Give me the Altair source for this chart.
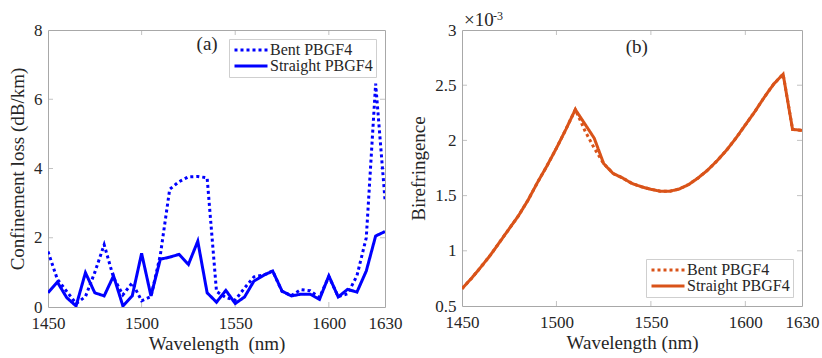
import altair as alt
import pandas as pd

# ---------------- data ----------------
wl_a = [1450, 1455, 1460, 1465, 1470, 1475, 1480, 1485, 1490, 1495, 1500, 1505,
        1510, 1515, 1520, 1525, 1530, 1535, 1540, 1545, 1550, 1555, 1560, 1565,
        1570, 1575, 1580, 1585, 1590, 1595, 1600, 1605, 1610, 1615, 1620, 1625, 1630]
loss_bent = [1.6, 0.8, 0.45, 0.1, 0.3, 1.0, 1.8, 0.85, 0.35, 0.7, 0.18, 0.3,
             1.5, 3.4, 3.62, 3.76, 3.77, 3.73, 0.45, 0.27, 0.2, 0.55, 0.87, 0.92,
             1.04, 0.45, 0.33, 0.5, 0.47, 0.27, 0.88, 0.3, 0.38, 0.9, 2.0, 6.45, 3.1]
loss_straight = [0.41, 0.72, 0.27, 0.03, 0.99, 0.41, 0.32, 0.9, 0.03, 0.32, 1.55, 0.32,
                 1.38, 1.44, 1.52, 1.23, 1.9, 0.41, 0.14, 0.48, 0.1, 0.29, 0.75, 0.91,
                 1.04, 0.46, 0.32, 0.37, 0.37, 0.22, 0.9, 0.29, 0.51, 0.43, 1.04, 2.05, 2.18]

wl_b = [1450, 1455, 1460, 1465, 1470, 1475, 1480, 1485, 1490, 1495, 1500, 1505,
        1510, 1515, 1520, 1525, 1530, 1535, 1540, 1545, 1550, 1555, 1560, 1565,
        1570, 1575, 1580, 1585, 1590, 1595, 1600, 1605, 1610, 1615, 1620, 1625, 1630]
bir_straight = [0.657, 0.75, 0.853, 0.96, 1.08, 1.20, 1.32, 1.46, 1.62, 1.77, 1.93, 2.10,
                2.28, 2.15, 2.02, 1.79, 1.70, 1.66, 1.61, 1.58, 1.557, 1.54, 1.539, 1.56,
                1.60, 1.66, 1.73, 1.815, 1.91, 2.02, 2.14, 2.26, 2.39, 2.51, 2.60, 2.10, 2.09]
bir_bent = [0.657, 0.75, 0.853, 0.96, 1.08, 1.20, 1.32, 1.46, 1.62, 1.77, 1.93, 2.10,
            2.28, 2.09, 1.93, 1.79, 1.70, 1.66, 1.61, 1.58, 1.557, 1.54, 1.539, 1.56,
            1.60, 1.66, 1.73, 1.815, 1.91, 2.02, 2.14, 2.26, 2.39, 2.51, 2.60, 2.10, 2.09]

series_names = ["Bent PBGF4", "Straight PBGF4"]
x_ticks = [1450, 1500, 1550, 1600, 1630]
ya_ticks = [0, 2, 4, 6, 8]
yb_ticks = [0.5, 1, 1.5, 2, 2.5, 3]
panel_a_label = ["(a)"]
panel_a_pos = [1535, 7.6]
panel_b_label = ["(b)"]
panel_b_pos = [1542.5, 2.85]

# ---------------- style ----------------
FONT = "Liberation Serif"
TXT = "#262626"
FRAME = "#a8a8a8"
BLUE = "#0000ff"
ORANGE = "#d95319"
WA, HA = 337, 277
WB, HB = 340, 276

df_a = pd.DataFrame({
    "wl": wl_a * 2,
    "v": loss_bent + loss_straight,
    "s": [series_names[0]] * len(wl_a) + [series_names[1]] * len(wl_a),
})
df_b = pd.DataFrame({
    "wl": wl_b * 2,
    "v": bir_bent + bir_straight,
    "s": [series_names[0]] * len(wl_b) + [series_names[1]] * len(wl_b),
})


def axis_x(title):
    return alt.Axis(values=x_ticks, title=title, domain=False, ticks=False, grid=False, format="d",
                    labelFont=FONT, labelFontSize=17, labelColor=TXT, labelPadding=8,
                    titleFont=FONT, titleFontSize=19, titleColor=TXT, titleFontWeight="normal",
                    titlePadding=3, labelFlush=False)


def axis_y(title, vals, fmt):
    return alt.Axis(values=vals, title=title, domain=False, ticks=False, grid=False, format=fmt,
                    labelFont=FONT, labelFontSize=17, labelColor=TXT, labelPadding=6,
                    titleFont=FONT, titleFontSize=19, titleColor=TXT, titleFontWeight="normal",
                    titlePadding=6, labelFlush=False)


def panel(df, color, ydom, yvals, ytitle, fmt, W, H, lab, pos, legend_orient, legend_off):
    xs = alt.Scale(domain=[1450, 1630], nice=False, zero=False)
    ys = alt.Scale(domain=ydom, nice=False, zero=False)
    leg = alt.Legend(title=None, orient=legend_orient, offset=legend_off,
                     labelFont=FONT, labelFontSize=16, labelColor=TXT,
                     symbolType="M-1,0H5", symbolSize=121, symbolStrokeWidth=3,
                     labelOffset=22, padding=3, rowPadding=0,
                     strokeColor="#cfcfcf", fillColor="white", cornerRadius=0)
    xtitle = "Wavelength\u00a0 (nm)" if lab == "(a)" else "Wavelength (nm)"
    lines = alt.Chart(df).mark_line(strokeWidth=3, clip=True).encode(
        x=alt.X("wl:Q", scale=xs, axis=axis_x(xtitle)),
        y=alt.Y("v:Q", scale=ys, axis=axis_y(ytitle, yvals, fmt)),
        color=alt.Color("s:N", scale=alt.Scale(domain=series_names, range=[color, color]), legend=leg),
        strokeDash=alt.StrokeDash("s:N", scale=alt.Scale(domain=series_names, range=[[3, 3], [1, 0]]), legend=leg),
        order=alt.Order("wl:Q"),
    )
    xt = pd.DataFrame({"t": x_ticks[1:-1]})
    yt = pd.DataFrame({"t": yvals[1:-1]})
    tick_style = dict(color=FRAME, thickness=1, size=5)
    xb = alt.Chart(xt).mark_tick(**tick_style).encode(x=alt.X("t:Q", scale=xs), y=alt.value(H - 2.5))
    xtop = alt.Chart(xt).mark_tick(**tick_style).encode(x=alt.X("t:Q", scale=xs), y=alt.value(2.5))
    yl = alt.Chart(yt).mark_tick(**tick_style).encode(y=alt.Y("t:Q", scale=ys), x=alt.value(2.5))
    yr = alt.Chart(yt).mark_tick(**tick_style).encode(y=alt.Y("t:Q", scale=ys), x=alt.value(W - 2.5))
    lab_df = pd.DataFrame({"x": [pos[0]], "y": [pos[1]], "t": [lab]})
    txt = alt.Chart(lab_df).mark_text(font=FONT, fontSize=19, color=TXT).encode(
        x=alt.X("x:Q", scale=xs), y=alt.Y("y:Q", scale=ys), text="t:N")
    layers = [xb, xtop, yl, yr, lines, txt]
    return alt.layer(*layers).properties(width=W, height=H)


left = panel(df_a, BLUE, [0, 8], ya_ticks, "Confinement loss (dB/km)", "d", WA, HA,
             panel_a_label[0], panel_a_pos, "top-right", 9)
right = panel(df_b, ORANGE, [0.5, 3], yb_ticks, "Birefringence", "~g", WB, HB,
              panel_b_label[0], panel_b_pos, "bottom-right", 9)

exp_df = pd.DataFrame({"a": ["\u00d710"], "b": ["-3"]})
exp1 = alt.Chart(exp_df).mark_text(font=FONT, fontSize=19, color=TXT, align="left", baseline="alphabetic").encode(
    x=alt.value(2), y=alt.value(-4), text="a:N")
exp2 = alt.Chart(exp_df).mark_text(font=FONT, fontSize=12, color=TXT, align="left", baseline="alphabetic").encode(
    x=alt.value(31), y=alt.value(-10), text="b:N")
right = alt.layer(right, exp1, exp2).properties(width=WB, height=HB)

chart = alt.hconcat(left, right, spacing=77, bounds="flush").properties(
    padding={"left": 8, "top": 9, "right": 0, "bottom": 0}
).configure(font=FONT).configure_view(stroke=FRAME, strokeWidth=1).configure_legend(
    strokeColor="#cfcfcf", labelFont=FONT, labelFontSize=16, labelColor=TXT
).resolve_scale(color="independent", strokeDash="independent", x="independent", y="independent")

chart.save("out.html", embed_options={"renderer": "svg", "actions": False})
